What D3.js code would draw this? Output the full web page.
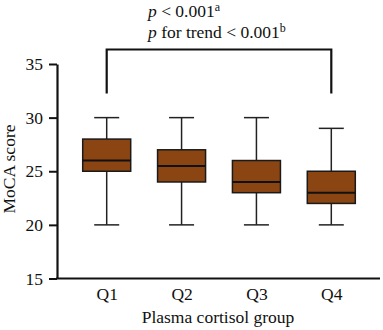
<!DOCTYPE html>
<html><head><meta charset="utf-8">
<script src="https://cdn.jsdelivr.net/npm/d3@7"></script>
<style>body{margin:0;background:#fff}svg{display:block}text{font-family:"Liberation Serif","Times New Roman",serif;fill:#111}</style>
</head><body><svg id="c" width="383" height="330"></svg>
<script>
const categories = ["Q1","Q2","Q3","Q4"];
const mins    = [20, 20, 20, 20];
const q1s     = [25, 24, 23, 22];
const medians = [26, 25.5, 24, 23];
const q3s     = [28, 27, 26, 25];
const maxs    = [30, 30, 30, 29];
const yTicks  = [15, 20, 25, 30, 35];

const FS = 17.5;
const svg = d3.select("#c");
const y = d3.scaleLinear().domain([15, 35]).range([278.5, 64]);
const x = d3.scalePoint().domain(categories).range([106.7, 331.3]);
const boxW = 48, capW = 25;

// axes
const yAxis = svg.append("g").attr("transform","translate(57,0)")
  .call(d3.axisLeft(y).tickValues(yTicks).tickSize(8).tickPadding(6).tickSizeOuter(0));
yAxis.select(".domain").attr("stroke","#111").attr("stroke-width",2.2);
yAxis.selectAll(".tick line").attr("stroke","#111").attr("stroke-width",2);
yAxis.selectAll(".tick text").attr("font-size",FS).style("font-family","Liberation Serif").attr("fill","#111");

svg.append("line").attr("x1",56).attr("x2",380).attr("y1",y(15)).attr("y2",y(15))
  .attr("stroke","#111").attr("stroke-width",2.2);
const xAxis = svg.append("g").attr("transform",`translate(0,${y(15)})`)
  .call(d3.axisBottom(x).tickSize(0).tickPadding(9));
xAxis.select(".domain").remove();
xAxis.selectAll(".tick text").attr("font-size",FS).style("font-family","Liberation Serif").attr("fill","#111");

// boxes
const data = categories.map((c,i)=>({c,min:mins[i],q1:q1s[i],med:medians[i],q3:q3s[i],max:maxs[i]}));
const g = svg.append("g").selectAll("g").data(data).join("g");
g.append("line").attr("x1",d=>x(d.c)).attr("x2",d=>x(d.c)).attr("y1",d=>y(d.max)).attr("y2",d=>y(d.q3))
  .attr("stroke","#222").attr("stroke-width",1.5);
g.append("line").attr("x1",d=>x(d.c)).attr("x2",d=>x(d.c)).attr("y1",d=>y(d.q1)).attr("y2",d=>y(d.min))
  .attr("stroke","#222").attr("stroke-width",1.5);
g.append("line").attr("x1",d=>x(d.c)-capW/2).attr("x2",d=>x(d.c)+capW/2).attr("y1",d=>y(d.max)).attr("y2",d=>y(d.max))
  .attr("stroke","#222").attr("stroke-width",1.5);
g.append("line").attr("x1",d=>x(d.c)-capW/2).attr("x2",d=>x(d.c)+capW/2).attr("y1",d=>y(d.min)).attr("y2",d=>y(d.min))
  .attr("stroke","#222").attr("stroke-width",1.5);
g.append("rect").attr("x",d=>x(d.c)-boxW/2).attr("width",boxW)
  .attr("y",d=>y(d.q3)).attr("height",d=>y(d.q1)-y(d.q3))
  .attr("fill","#8B4513").attr("stroke","#1a1a1a").attr("stroke-width",1.5);
g.append("line").attr("x1",d=>x(d.c)-boxW/2).attr("x2",d=>x(d.c)+boxW/2).attr("y1",d=>y(d.med)).attr("y2",d=>y(d.med))
  .attr("stroke","#111").attr("stroke-width",2);

// bracket
const bx1 = x("Q1"), bx2 = x("Q4");
svg.append("path").attr("d",`M${bx1},93.5V49.5H${bx2}V93.5`).attr("fill","none")
  .attr("stroke","#111").attr("stroke-width",2.2);

// annotations
const t1 = svg.append("text").attr("x",148).attr("y",16.5).attr("font-size",FS);
t1.append("tspan").attr("font-style","italic").text("p");
t1.append("tspan").text(" < 0.001");
t1.append("tspan").attr("font-size",12).attr("dy",-6).text("a");
const t2 = svg.append("text").attr("x",148).attr("y",37.5).attr("font-size",FS);
t2.append("tspan").attr("font-style","italic").text("p");
t2.append("tspan").text(" for trend < 0.001");
t2.append("tspan").attr("font-size",12).attr("dy",-6).text("b");

// axis titles
svg.append("text").attr("transform","translate(15,169) rotate(-90)").attr("text-anchor","middle")
  .attr("font-size",FS).text("MoCA score");
svg.append("text").attr("x",218).attr("y",323).attr("text-anchor","middle")
  .attr("font-size",FS).text("Plasma cortisol group");
</script></body></html>
